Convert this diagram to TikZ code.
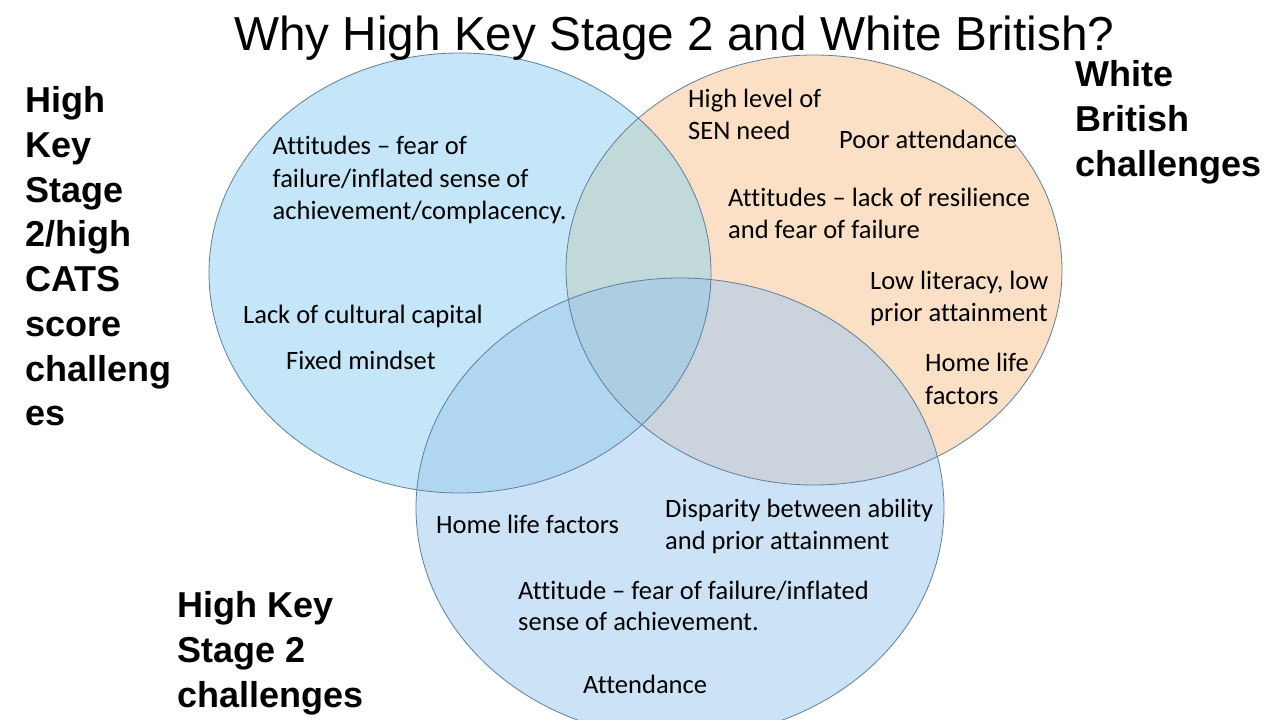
\documentclass[tikz,border=0pt]{standalone}
\usepackage{fontspec}
\setmainfont{Carlito}[Ligatures=NoCommon,Contextuals=NoAlternate]
\newfontfamily\arialfont{Liberation Sans}
\definecolor{cL}{HTML}{C4E6F8}
\definecolor{cR}{HTML}{FCE0C5}
\definecolor{cB}{HTML}{CCE2F6}
\definecolor{cLR}{HTML}{C2D9D9}
\definecolor{cLB}{HTML}{B0D6F2}
\definecolor{cRB}{HTML}{CBD3DC}
\definecolor{cLRB}{HTML}{ADCDE2}
\definecolor{cEdge}{HTML}{5F7F9C}
\begin{document}
\begin{tikzpicture}[x=1pt,y=-1pt,
  body/.style={font=\fontsize{26.5}{32}\selectfont, anchor=base west, inner sep=0pt},
  lab/.style={font=\arialfont\bfseries\fontsize{36}{45}\selectfont, anchor=base west, inner sep=0pt},
  ttl/.style={font=\arialfont\fontsize{47.7}{56}\selectfont, anchor=base west, inner sep=0pt},
  ring/.style={draw=cEdge, line width=0.8pt}]
\useasboundingbox (0,0) rectangle (1280,720);
\clip (0,0) rectangle (1280,720);
\fill[white] (0,0) rectangle (1280,720);
% base fills
\fill[cL] (460,273) ellipse [x radius=251pt, y radius=220pt];
\fill[cR] (814,270) ellipse [x radius=248pt, y radius=215pt];
\fill[cB] (680,508) ellipse [x radius=264pt, y radius=230pt];
% right & bottom
\begin{scope}
  \clip (814,270) ellipse [x radius=248pt, y radius=215pt];
  \fill[cRB] (680,508) ellipse [x radius=264pt, y radius=230pt];
\end{scope}
% overlaps with left
\begin{scope}
  \clip (460,273) ellipse [x radius=251pt, y radius=220pt];
  \fill[cLR] (814,270) ellipse [x radius=248pt, y radius=215pt];
  \fill[cLB] (680,508) ellipse [x radius=264pt, y radius=230pt];
  \clip (814,270) ellipse [x radius=248pt, y radius=215pt];
  \fill[cLRB] (680,508) ellipse [x radius=264pt, y radius=230pt];
\end{scope}
% outlines
\draw[ring] (460,273) ellipse [x radius=251pt, y radius=220pt];
\draw[ring] (814,270) ellipse [x radius=248pt, y radius=215pt];
\draw[ring] (680,508) ellipse [x radius=264pt, y radius=230pt];

% title
\node[ttl] (title) at (234,50) {Why High Key Stage 2 and White British?};

% left circle texts
\node[body] (l1a) at (272.5,154.5) {Attitudes -- fear of};
\node[body] (l1b) at (272.5,187) {failure/inflated sense of};
\node[body] (l1c) at (272.5,219.5) {achievement/complacency.};
\node[body] (l2) at (243,323) {Lack of cultural capital};
\node[body] (l3) at (286,369) {Fixed mindset};

% right circle texts
\node[body] (r1a) at (688,107) {High level of};
\node[body] (r1b) at (688,139) {SEN need};
\node[body] (r2) at (839,148) {Poor attendance};
\node[body] (r3a) at (728,206) {Attitudes -- lack of resilience};
\node[body] (r3b) at (728,238) {and fear of failure};
\node[body] (r4a) at (870,289.5) {Low literacy, low};
\node[body] (r4b) at (870,321.5) {prior attainment};
\node[body] (r5a) at (925,371.5) {Home life};
\node[body] (r5b) at (925,404) {factors};

% bottom circle texts
\node[body] (b1) at (436,533) {Home life factors};
\node[body] (b2a) at (665,517) {Disparity between ability};
\node[body] (b2b) at (665,549) {and prior attainment};
\node[body] (b3a) at (518,599) {Attitude -- fear of failure/inflated};
\node[body] (b3b) at (518,630.5) {sense of achievement.};
\node[body] (b4) at (583,693) {Attendance};

% labels
\node[lab] (la1) at (25,112) {High};
\node[lab] (la2) at (25,157) {Key};
\node[lab] (la3) at (25,202) {Stage};
\node[lab] (la4) at (25,246.5) {2/high};
\node[lab] (la5) at (25,291) {CATS};
\node[lab] (la6) at (25,336) {score};
\node[lab] (la7) at (25,381) {challeng};
\node[lab] (la8) at (25,425) {es};

\node[lab] (wb1) at (1075,86) {White};
\node[lab] (wb2) at (1075,131) {British};
\node[lab] (wb3) at (1075,176) {challenges};

\node[lab] (hk1) at (177,617) {High Key};
\node[lab] (hk2) at (177,662) {Stage 2};
\node[lab] (hk3) at (177,707) {challenges};
\end{tikzpicture}
\end{document}
